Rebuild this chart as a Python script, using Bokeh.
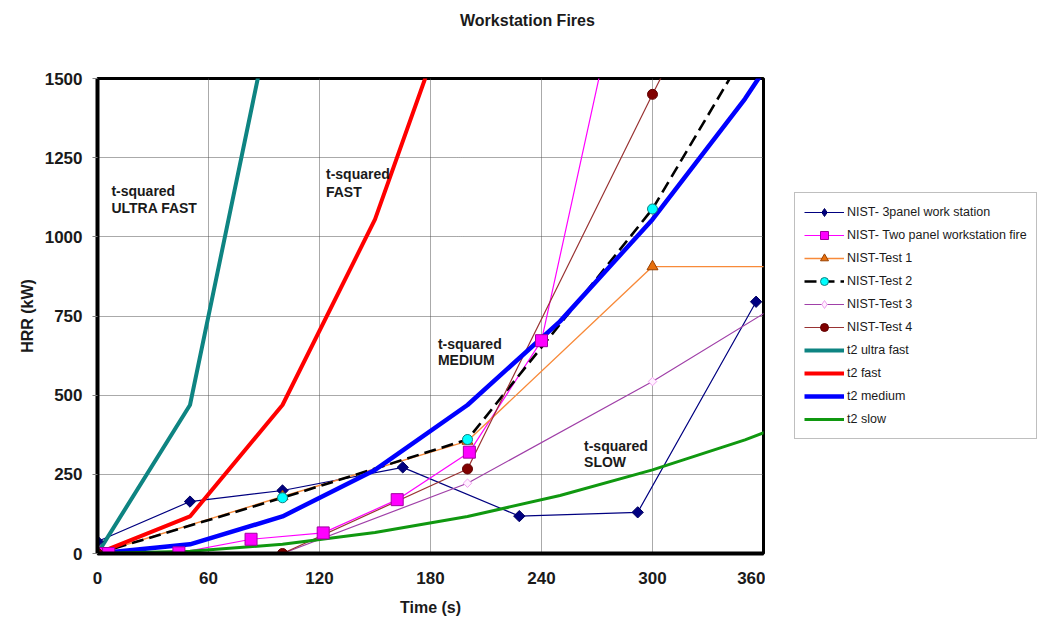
import math
from bokeh.plotting import figure
from bokeh.layouts import row, column
from bokeh.models import Range1d, FixedTicker, Legend, LegendItem, Label
from bokeh.embed import file_html
from bokeh.resources import INLINE

# ---- data ----
t2_time = [0, 50, 100, 150, 200, 250, 300, 350, 400]
t2_ultra_fast = [0, 469, 1876, 4221, 7504, 11725, 16884, 22981, 30016]
t2_fast = [0, 117, 469, 1055, 1876, 2931, 4221, 5745, 7504]
t2_medium = [0, 29, 117, 264, 469, 733, 1055, 1436, 1875]
t2_slow = [0, 7, 29, 66, 117, 183, 264, 359, 469]

panel3_time = [0, 50, 100, 165, 228, 292, 356]
panel3_hrr = [38, 164, 199, 272, 118, 130, 795]

panel2_time = [0, 6, 44, 83, 122, 162, 201, 240, 280]
panel2_hrr = [0, 0, 2, 45, 65, 170, 320, 672, 1740]

test1_time = [0, 100, 200, 300, 400]
test1_hrr = [0, 180, 355, 906, 906]

test2_time = [0, 100, 200, 300, 360]
test2_hrr = [0, 176, 360, 1088, 1680]

test3_time = [0, 100, 200, 300, 400]
test3_hrr = [0, 0, 222, 543, 900]

test4_time = [0, 100, 200, 300, 400]
test4_hrr = [0, 0, 267, 1450, 2600]

x_ticks = [0, 60, 120, 180, 240, 300, 360]
y_ticks = [0, 250, 500, 750, 1000, 1250, 1500]

series_labels = ["NIST- 3panel work station", "NIST- Two panel workstation fire",
                 "NIST-Test 1", "NIST-Test 2", "NIST-Test 3", "NIST-Test 4",
                 "t2 ultra fast", "t2 fast", "t2 medium", "t2 slow"]

FONT = "Liberation Sans"
Q = math.pi / 4

# styles: (line color, width, dash, marker, marker size, fill, marker outline, angle,
#          legend marker, legend marker size)
styles = [
    ("#000080", 1.2, "solid", "square", 8, "#000080", "#000060", Q, "diamond", 11),
    ("#FF00FF", 1.2, "solid", "square", 12, "#FF00FF", "#A000A0", 0, "square", 12),
    ("#F88A3A", 1.4, "solid", "triangle", 11, "#E8700E", "#994000", 0, "triangle", 11),
    ("black", 2.6, "12 6", "circle", 10, "#00FFFF", "#108080", 0, "circle", 10),
    ("#A040A8", 1.2, "solid", "square", 6, "#FFF0FF", "#F0A0F0", Q, "diamond", 9),
    ("#993333", 1.2, "solid", "circle", 10, "#800000", "#600000", 0, "circle", 10),
    ("#0E8482", 4, "solid", None, 0, None, None, 0, None, 0),
    ("#FF0000", 4, "solid", None, 0, None, None, 0, None, 0),
    ("#0000FF", 4.5, "solid", None, 0, None, None, 0, None, 0),
    ("#109810", 3, "solid", None, 0, None, None, 0, None, 0),
]
series_data = [
    (panel3_time, panel3_hrr), (panel2_time, panel2_hrr), (test1_time, test1_hrr),
    (test2_time, test2_hrr), (test3_time, test3_hrr), (test4_time, test4_hrr),
    (t2_time, t2_ultra_fast), (t2_time, t2_fast), (t2_time, t2_medium), (t2_time, t2_slow),
]

TOP = 40

# ---- title strip ----
t = figure(width=1040, height=TOP, output_backend="svg", toolbar_location=None,
           x_range=Range1d(0, 360), y_range=Range1d(0, TOP),
           min_border_left=97, min_border_right=277, min_border_top=0, min_border_bottom=0)
t.axis.visible = False
t.grid.visible = False
t.outline_line_color = None
t.background_fill_color = "white"
t.border_fill_color = "white"
t.add_layout(Label(x=232.4, y=TOP - 20, text="Workstation Fires", text_font=FONT,
                   text_font_style="bold", text_font_size="16px", text_color="#1a1a1a",
                   text_baseline="middle", text_align="center"))

# ---- main chart ----
p = figure(width=765, height=622 - TOP, output_backend="svg", toolbar_location=None,
           x_range=Range1d(0, 360), y_range=Range1d(0, 1500),
           min_border_left=97, min_border_right=2, min_border_top=78 - TOP,
           min_border_bottom=69)
p.background_fill_color = "white"
p.border_fill_color = "white"
p.outline_line_color = "black"
p.outline_line_width = 3

for ax in (p.xaxis[0], p.yaxis[0]):
    ax.axis_line_color = "black"
    ax.axis_line_width = 4
    ax.major_label_text_font = FONT
    ax.major_label_text_font_style = "bold"
    ax.major_label_text_font_size = "17px"
    ax.major_label_text_color = "#1a1a1a"
    ax.axis_label_text_font = FONT
    ax.axis_label_text_font_style = "bold"
    ax.axis_label_text_font_size = "16px"
    ax.axis_label_text_color = "#1a1a1a"
    ax.minor_tick_line_color = None
    ax.major_tick_in = 0

p.xaxis.ticker = FixedTicker(ticks=x_ticks)
p.yaxis.ticker = FixedTicker(ticks=y_ticks)
p.xaxis.axis_label = "Time (s)"
p.yaxis.axis_label = "HRR (kW)"
p.xaxis.major_tick_out = 0
p.xaxis.major_label_standoff = 18
p.xaxis.axis_label_standoff = 12
p.yaxis.major_tick_out = 5
p.yaxis.major_tick_line_color = "#808080"
p.yaxis.major_label_standoff = 10
p.yaxis.axis_label_standoff = 6

p.xgrid.ticker = FixedTicker(ticks=x_ticks)
p.ygrid.ticker = FixedTicker(ticks=y_ticks)
for g in (p.xgrid[0], p.ygrid[0]):
    g.grid_line_color = "#555555"
    g.grid_line_dash = "1 1"
    g.grid_line_width = 1

# lines first, then markers on top
for (xs, ys), st in zip(series_data, styles):
    p.line(xs, ys, line_color=st[0], line_width=st[1], line_dash=st[2])
for (xs, ys), st in zip(series_data, styles):
    if st[3]:
        p.scatter(xs, ys, marker=st[3], size=st[4], fill_color=st[5], line_color=st[6],
                  angle=st[7])

def note(x, y, txt):
    p.add_layout(Label(x=x, y=y, text=txt, text_font=FONT, text_font_style="bold",
                       text_font_size="14px", text_color="#1a1a1a",
                       text_baseline="middle", text_align="left"))

note(7.5, 1146, "t-squared")
note(7.5, 1092, "ULTRA FAST")
note(123.5, 1197, "t-squared")
note(123.5, 1143, "FAST")
note(184, 663, "t-squared")
note(184, 612, "MEDIUM")
note(263, 341, "t-squared")
note(263, 290, "SLOW")

# ---- legend panel (separate figure to the right) ----
q = figure(width=275, height=622 - TOP, output_backend="svg", toolbar_location=None,
           x_range=Range1d(0, 1), y_range=Range1d(0, 1),
           min_border_left=0, min_border_right=0, min_border_top=78 - TOP,
           min_border_bottom=69)
q.axis.visible = False
q.grid.visible = False
q.outline_line_color = None
q.background_fill_color = "white"
q.border_fill_color = "white"

items = []
for lab, st in zip(series_labels, styles):
    rs = [q.line([-5, -4], [-5, -4], line_color=st[0], line_width=st[1], line_dash=st[2])]
    if st[8]:
        rs.append(q.scatter([-5], [-5], marker=st[8], size=st[9], fill_color=st[5],
                            line_color=st[6]))
    items.append(LegendItem(label=lab, renderers=rs))

legend = Legend(items=items, location=(29, 114))
legend.label_text_font = FONT
legend.label_text_font_size = "12.5px"
legend.label_text_color = "#1a1a1a"
legend.glyph_width = 40
legend.glyph_height = 20
legend.label_height = 20
legend.spacing = 3
legend.padding = 9
legend.margin = 0
legend.label_standoff = 3
legend.border_line_color = "#808080"
legend.border_line_width = 1
legend.background_fill_color = "white"
q.add_layout(legend, "center")

layout = column(t, row(p, q, spacing=0), spacing=0)
open("out.html", "w").write(file_html(layout, INLINE))
